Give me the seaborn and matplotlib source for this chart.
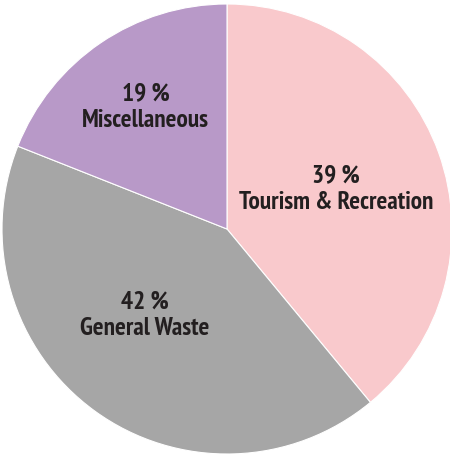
import matplotlib
matplotlib.use("Agg")
import matplotlib.pyplot as plt
import seaborn as sns
from matplotlib import font_manager

categories = ["Tourism & Recreation", "General Waste", "Miscellaneous"]
shares = [39, 42, 19]
colors = ["#F9C9CC", "#A6A6A6", "#B899C8"]

sns.set_theme(style="white")
installed = {f.name for f in font_manager.fontManager.ttflist}
preferred = ["PT Sans Narrow", "Fira Sans Condensed", "Roboto Condensed",
             "Asap Condensed", "Barlow Semi Condensed", "DejaVu Sans"]
family = next(f for f in preferred if f in installed)
plt.rcParams["font.family"] = [family, "DejaVu Sans"]

fig = plt.figure(figsize=(4.5, 4.57), dpi=100)
ax = fig.add_axes([0, 0, 1, 1])
wedges, _ = ax.pie(shares, colors=colors, startangle=90, counterclock=False,
                   radius=1.0, wedgeprops=dict(edgecolor="white", linewidth=0.8))
ax.set_xlim(-227 / 225, 223 / 225)
ax.set_ylim(-228 / 225, 229 / 225)
ax.set_aspect("equal")
ax.axis("off")

label_xy = [(0.484, 0.178), (-0.367, -0.382), (-0.362, 0.540)]
for (x, y), name, v in zip(label_xy, categories, shares):
    ax.text(x, y, f"{v} %\n{name}", ha="center", va="center", fontsize=18.3,
            fontweight="bold", color="#231F20", linespacing=1.2)

fig.savefig("out.png", dpi=100)
